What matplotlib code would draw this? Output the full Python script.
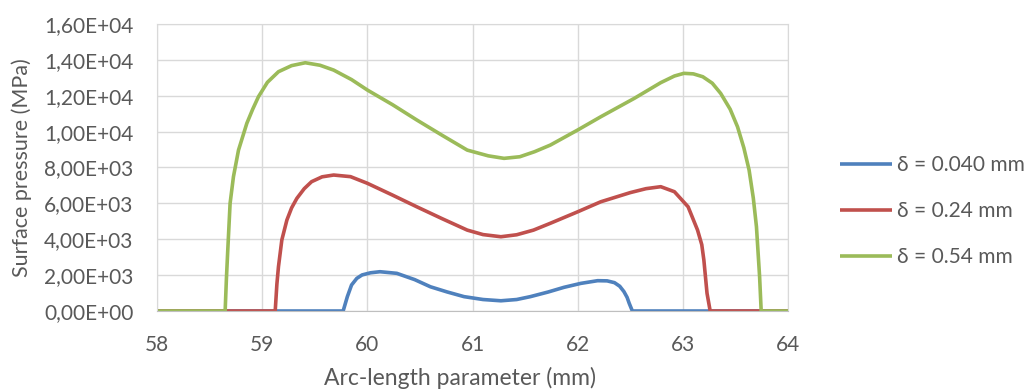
import matplotlib
matplotlib.use("Agg")
import matplotlib.pyplot as plt
from matplotlib.ticker import FuncFormatter, MultipleLocator

plt.rcParams['font.family'] = ['Lato', 'DejaVu Sans']

# delta = 0.040 mm
x_a = [58, 59.77, 59.79, 59.81, 59.85, 59.90, 59.95, 60.03, 60.12, 60.28, 60.45, 60.6, 60.76,
       60.92, 61.1, 61.27, 61.42, 61.55, 61.72, 61.87, 62.03, 62.19, 62.28, 62.35, 62.40,
       62.44, 62.47, 62.49, 62.52, 64]
y_a = [0, 0, 400, 800, 1450, 1820, 2010, 2130, 2190, 2100, 1750, 1350, 1060,
       800, 640, 570, 640, 800, 1060, 1320, 1540, 1690, 1680, 1580, 1380,
       1080, 760, 430, 0, 0]

# delta = 0.24 mm
x_b = [58, 59.124, 59.14, 59.155, 59.187, 59.235, 59.28, 59.33, 59.40, 59.47, 59.57, 59.68,
       59.84, 60.0, 60.24, 60.47, 60.71, 60.95, 61.1, 61.27, 61.42, 61.58, 61.74, 62.0, 62.22,
       62.5, 62.65, 62.79, 62.92, 63.05, 63.14, 63.18, 63.20, 63.23, 63.26, 64]
y_b = [0, 0, 1500, 2470, 3960, 5070, 5750, 6280, 6820, 7210, 7480, 7580,
       7490, 7120, 6460, 5810, 5150, 4510, 4260, 4140, 4250, 4510, 4890, 5530, 6090,
       6600, 6820, 6930, 6650, 5810, 4510, 3700, 2840, 990, 0, 0]

# delta = 0.54 mm
x_c = [58, 58.648, 58.66, 58.673, 58.695, 58.727, 58.775, 58.854, 58.91, 58.965, 59.05, 59.155,
       59.28, 59.41, 59.55, 59.68, 59.85, 60.0, 60.24, 60.47, 60.71, 60.95, 61.15, 61.30, 61.45,
       61.59, 61.74, 62.0, 62.22, 62.54, 62.79, 62.92, 63.01, 63.10, 63.19, 63.28, 63.36, 63.45,
       63.52, 63.58, 63.63, 63.67, 63.70, 63.73, 63.745, 64]
y_c = [0, 0, 1800, 3400, 6000, 7490, 8970, 10460, 11250, 11950, 12750, 13340,
       13680, 13840, 13700, 13430, 12900, 12320, 11500, 10650, 9800, 8970, 8650, 8510, 8600,
       8880, 9250, 10090, 10830, 11860, 12730, 13100, 13250, 13220, 13060, 12700, 12130, 11250,
       10270, 9100, 7860, 6300, 4700, 1910, 0, 0]

labels = ["δ = 0.040 mm", "δ = 0.24 mm", "δ = 0.54 mm"]
colors = ["#4F81BD", "#C0504D", "#9BBB59"]
txt = "#595959"
grid = "#D9D9D9"

fig = plt.figure(figsize=(10.34, 3.92), dpi=100)
ax = fig.add_axes([157/1034, 1-311/392, (788-157)/1034, (311-24)/392])

for xs, ys, lab, c in zip([x_a, x_b, x_c], [y_a, y_b, y_c], labels, colors):
    ax.plot(xs, ys, color=c, lw=2.6, label=lab, solid_joinstyle='round', solid_capstyle='butt')

ax.set_xlim(58, 64)
ax.set_ylim(0, 16000)
ax.xaxis.set_major_locator(MultipleLocator(1))
ax.yaxis.set_major_locator(MultipleLocator(2000))
ax.yaxis.set_major_formatter(FuncFormatter(lambda v, p: f"{v:.2E}".replace('.', ',')))
ax.grid(True, color=grid, lw=1)
ax.set_axisbelow(True)
for s in ax.spines.values():
    s.set_color(grid)
ax.spines['bottom'].set_color("#BFBFBF")
ax.tick_params(length=0, labelsize=15, colors=txt)
ax.tick_params(axis='y', pad=17)
ax.tick_params(axis='x', pad=17)

ax.set_xlabel("Arc-length parameter (mm)", fontsize=16.5, color=txt)
ax.xaxis.set_label_coords((459.5-157)/631, -(378-311)/287)
ax.xaxis.label.set_va('center')
ax.set_ylabel("Surface pressure (MPa)", fontsize=15.5, color=txt)
ax.yaxis.set_label_coords(-(157-22)/631, 0.5)
ax.yaxis.label.set_va('center')

leg = ax.legend(loc='center left', bbox_to_anchor=(1.082, 0.347), frameon=False, borderpad=0,
                borderaxespad=0, fontsize=15, handlelength=2.5, handletextpad=0.23,
                labelspacing=1.25)
for t in leg.get_texts():
    t.set_color(txt)

fig.savefig("out.png", dpi=100)
